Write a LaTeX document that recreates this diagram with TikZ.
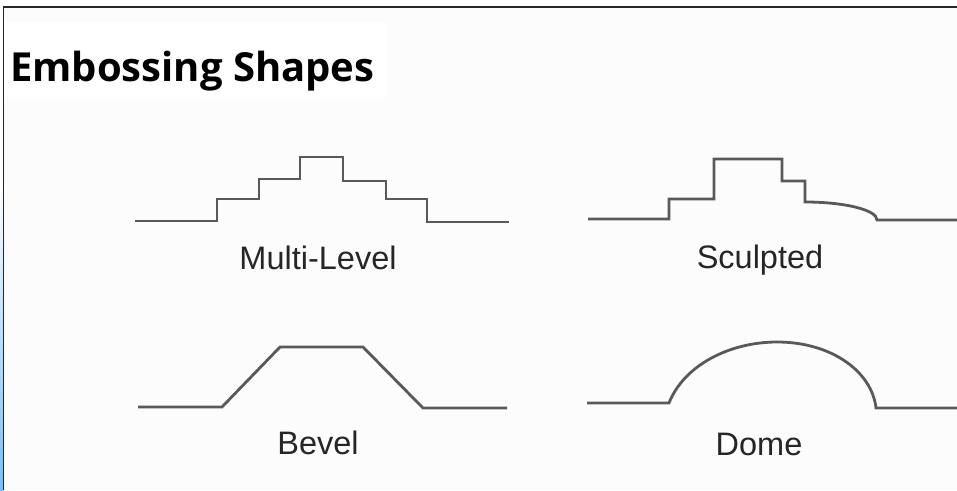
\documentclass[tikz,border=0pt]{standalone}
\usepackage{fontspec}
\setmainfont{Liberation Sans}
\newfontfamily\titlefont{Open Sans}
\usepackage{tikz}
\usetikzlibrary{positioning}
\tikzstyle{profile}=[draw=black!65,line width=2.8pt,miter limit=4]
\tikzstyle{caption}=[font=\fontsize{32.5}{38}\selectfont,anchor=base,text=black!85,inner sep=0pt]

\begin{document}
\begin{tikzpicture}[x=1pt,y=-1pt]
\useasboundingbox (0,0) rectangle (957,490);
% page and frame
\fill[white] (0,0) rectangle (957,490);
\fill[black!1] (3,7) rectangle (957,490);
\fill[white] (4,22) rectangle (385,97);
\shade[top color=white,bottom color=blue!45!cyan!55] (0,180) rectangle (3,490);
\draw[black!85,line width=2pt] (3,7) -- (957,7);
\draw[black!85,line width=1.4pt] (3.5,7) -- (3.5,490);

\node[font=\titlefont\bfseries\fontsize{40}{48}\selectfont,anchor=base west,inner sep=0pt] (title) at (10,81) {Embossing Shapes};

% multi-level
\draw[profile] (135,221) -- (217,221) -- (217,199) -- (259,199) -- (259,179) -- (300,179)
  -- (300,157) -- (343,157) -- (343,181) -- (386,181) -- (386,199) -- (427,199)
  -- (427,222) -- (509,222);
\node[caption] (multi) at (318,269) {Multi-Level};

% sculpted
\draw[profile] (588,219) -- (669,219) -- (669,199) -- (714,199) -- (714,159) -- (782,159)
  -- (782,181) -- (805,181) -- (805,202) .. controls (845,202) and (877,210) .. (877,220)
  -- (957,220);
\node[caption] (sculpt) at (760,268) {Sculpted};

% bevel
\draw[profile] (138,407) -- (222,407) -- (280,347) -- (363,347) -- (423,408) -- (507,408);
\node[caption] (bevel) at (318,454) {Bevel};

% dome
\draw[profile] (587,403) -- (669,403) .. controls (684,365) and (730,342) .. (777,342)
  .. controls (832,342) and (872,372) .. (876,408) -- (957,408);
\node[caption] (dome) at (759,455) {Dome};
\end{tikzpicture}
\end{document}
